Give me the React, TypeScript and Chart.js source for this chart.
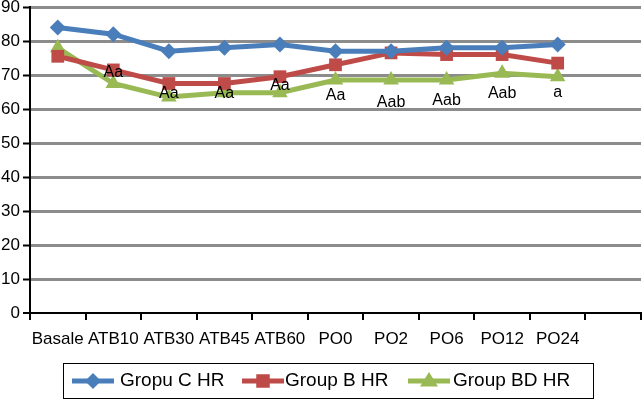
import React, { useEffect, useRef } from "react";
import { Chart, registerables } from "chart.js";

Chart.register(...registerables);

const categories = ["Basale", "ATB10", "ATB30", "ATB45", "ATB60", "PO0", "PO2", "PO6", "PO12", "PO24", ""];
const groupC = [84, 82, 77, 78, 79, 77, 77, 78, 78, 79, null];
const groupB = [75.5, 71.5, 67.5, 67.5, 69.5, 73, 76.5, 76, 76, 73.5, null];
const groupBD = [78, 67.5, 63.5, 64.8, 64.8, 68.5, 68.5, 68.5, 70.5, 69.5, null];
const noteTexts = ["", "Aa", "Aa", "Aa", "Aa", "Aa", "Aab", "Aab", "Aab", "a", ""];
const noteValues = [null, 69.3, 63.3, 63.2, 65.6, 62.6, 60.6, 61.2, 63.3, 63.5, null];
const yTicks = [0, 10, 20, 30, 40, 50, 60, 70, 80, 90];

const FONT = "'Liberation Sans', Arial, sans-serif";
const BLUE = "#4A7EBB";
const RED = "#BE4B48";
const GREEN = "#98B954";

const notesPlugin = {
  id: "notes",
  afterDatasetsDraw(chart: any) {
    const { ctx, scales } = chart;
    ctx.save();
    ctx.fillStyle = "#000";
    ctx.font = `16px ${FONT}`;
    ctx.textAlign = "center";
    ctx.textBaseline = "alphabetic";
    noteTexts.forEach((t, i) => {
      const v = noteValues[i];
      if (!t || v == null) return;
      ctx.fillText(t, scales.x.getPixelForValue(i), scales.y.getPixelForValue(v));
    });
    ctx.restore();
  },
};

const legendPlugin = {
  id: "boxLegend",
  afterDraw(chart: any) {
    const { ctx } = chart;
    ctx.save();
    ctx.strokeStyle = "#000";
    ctx.lineWidth = 1;
    ctx.strokeRect(63.5, 363.5, 530, 35);
    const items = [
      { x: 72, textX: 120 },
      { x: 242, textX: 285 },
      { x: 408, textX: 453 },
    ];
    const cy = 381;
    chart.data.datasets.forEach((ds: any, i: number) => {
      const it = items[i];
      ctx.strokeStyle = ds.borderColor;
      ctx.lineWidth = 5;
      ctx.beginPath();
      ctx.moveTo(it.x, cy);
      ctx.lineTo(it.x + 42, cy);
      ctx.stroke();
      ctx.fillStyle = ds.borderColor;
      const mx = it.x + 21;
      const r = ds.pointRadius;
      ctx.beginPath();
      if (ds.pointStyle === "rectRot") {
        ctx.moveTo(mx, cy - r);
        ctx.lineTo(mx + r, cy);
        ctx.lineTo(mx, cy + r);
        ctx.lineTo(mx - r, cy);
      } else if (ds.pointStyle === "rect") {
        ctx.rect(mx - r * 0.75, cy - r * 0.75, r * 1.5, r * 1.5);
      } else {
        ctx.moveTo(mx, cy - r);
        ctx.lineTo(mx + r, cy + r * 0.6);
        ctx.lineTo(mx - r, cy + r * 0.6);
      }
      ctx.closePath();
      ctx.fill();
      ctx.fillStyle = "#000";
      ctx.font = `19px ${FONT}`;
      ctx.textAlign = "left";
      ctx.textBaseline = "middle";
      ctx.fillText(ds.label, it.textX, cy);
    });
    ctx.restore();
  },
};

export default function App() {
  const ref = useRef<HTMLCanvasElement>(null);
  useEffect(() => {
    if (!ref.current) return;
    const chart = new Chart(ref.current, {
      type: "line",
      data: {
        labels: categories,
        datasets: [
          {
            label: "Gropu C HR",
            data: groupC,
            borderColor: BLUE,
            backgroundColor: BLUE,
            borderWidth: 5,
            pointStyle: "rectRot",
            pointRadius: 8,
            pointBorderWidth: 0,
          },
          {
            label: "Group B HR",
            data: groupB,
            borderColor: RED,
            backgroundColor: RED,
            borderWidth: 5,
            pointStyle: "rect",
            pointRadius: 9,
            pointBorderWidth: 0,
          },
          {
            label: "Group BD HR",
            data: groupBD,
            borderColor: GREEN,
            backgroundColor: GREEN,
            borderWidth: 5,
            pointStyle: "triangle",
            pointRadius: 9,
            pointBorderWidth: 0,
          },
        ] as any,
      },
      options: {
        responsive: false,
        animation: false,
        layout: { autoPadding: false, padding: { top: 7, right: 1, left: 0, bottom: 0 } },
        plugins: { legend: { display: false }, tooltip: { enabled: false } },
        scales: {
          x: {
            type: "category",
            offset: true,
            grid: {
              offset: true,
              drawOnChartArea: false,
              drawTicks: true,
              tickLength: 7,
              tickColor: "#000",
              tickWidth: 2,
              color: "#000",
              lineWidth: 2,
            },
            border: { color: "#000", width: 2 },
            ticks: {
              color: "#000",
              font: { family: FONT, size: 17 },
              padding: 9,
              maxRotation: 0,
              autoSkip: false,
            },
            afterFit: (s: any) => {
              s.height = 87;
              s.paddingLeft = 0;
              s.paddingRight = 0;
            },
          },
          y: {
            min: 0,
            max: 90,
            afterBuildTicks: (s: any) => {
              s.ticks = yTicks.map((v) => ({ value: v }));
            },
            grid: {
              color: (c: any) => (c.tick && c.tick.value === 0 ? "#000" : "#8C8C8C"),
              lineWidth: (c: any) => (c.tick && c.tick.value === 0 ? 2 : 3),
              tickColor: "#000",
              tickWidth: 2,
              tickLength: 7,
            },
            border: { color: "#000", width: 2 },
            ticks: {
              color: "#000",
              font: { family: FONT, size: 17 },
              padding: 3,
            },
            afterFit: (s: any) => {
              s.width = 30;
              s.paddingTop = 0;
              s.paddingBottom = 0;
            },
          },
        },
      },
      plugins: [notesPlugin, legendPlugin],
    });
    return () => chart.destroy();
  }, []);
  return (
    <div style={{ position: "absolute", left: 0, top: 0, width: 642, height: 400, background: "#fff" }}>
      <canvas ref={ref} width={642} height={400} />
    </div>
  );
}
